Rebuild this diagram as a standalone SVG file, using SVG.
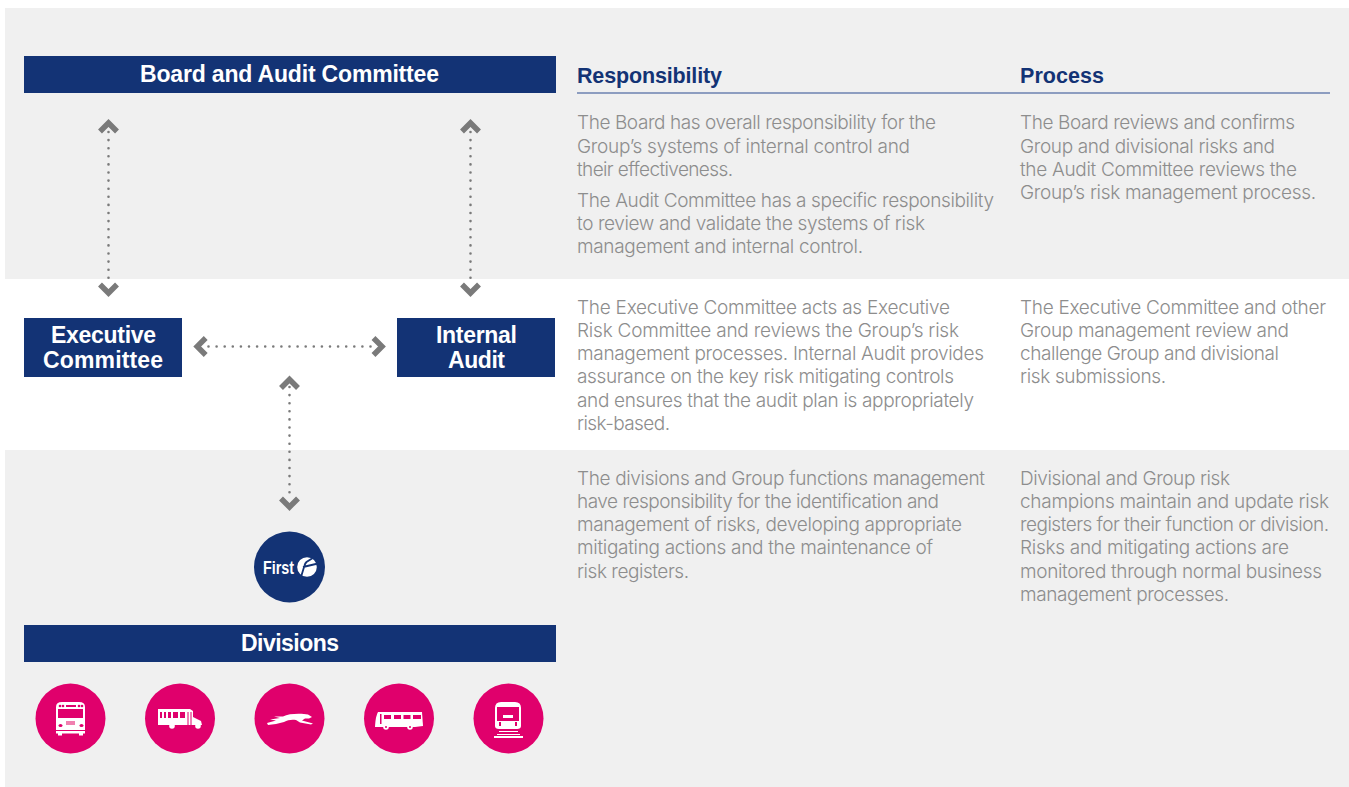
<svg xmlns="http://www.w3.org/2000/svg" width="1349" height="787" viewBox="0 0 1349 787">
<style>
.band{fill:#f0f0f0}
.bar{fill:#133375}
.h{font-family:"Liberation Sans",Arial,sans-serif;font-weight:700;fill:#fff;font-size:23px}
.sh{font-family:"Liberation Sans",Arial,sans-serif;font-weight:700;fill:#133375;font-size:21.500px}
.b{font-family:"Inter","Liberation Sans",sans-serif;font-weight:300;fill:#8d8d8d;font-size:19px}
.dot{fill:none;stroke:#7a7a7a;stroke-width:2.600;stroke-linecap:round;stroke-dasharray:0 8.100}
.chev{fill:none;stroke:#7a7a7a;stroke-width:5.500}
.pink{fill:#e0006c}
.w{fill:#fff}
.p{fill:#e0006c}
</style>
<rect width="1349" height="787" fill="#fff"/>
<rect class="band" x="5" y="8" width="1344" height="271"/>
<rect class="band" x="5" y="450" width="1344" height="337"/>
<line x1="577" y1="93" x2="1330" y2="93" stroke="#2a4a90" stroke-width="1"/>

<g id="connectors">
<path class="dot" d="M108.500 132V284"/><path class="chev" d="M100 131.500L108.500 123L117 131.500M100 284.500L108.500 293L117 284.500"/>
<path class="dot" d="M470.500 132V284"/><path class="chev" d="M462 131.500L470.500 123L479 131.500M462 284.500L470.500 293L479 284.500"/>
<path class="dot" d="M208.500 346.500H372"/><path class="chev" d="M205.700 338L197.200 346.500L205.700 355M373.500 338L382 346.500L373.500 355"/>
<path class="dot" d="M289.500 387V497"/><path class="chev" d="M281 388L289.500 379.500L298 388M281 498.500L289.500 507L298 498.500"/>
</g>

<g id="board"><rect class="bar" x="24" y="56" width="532" height="37"/><text class="h" x="140" y="82" textLength="299">Board and Audit Committee</text></g>
<g id="executive"><rect class="bar" x="24" y="318" width="158" height="59"/><text class="h" x="51" y="343" textLength="105">Executive</text><text class="h" x="43" y="368" textLength="120">Committee</text></g>
<g id="internal-audit"><rect class="bar" x="397" y="318" width="158" height="59"/><text class="h" x="436" y="343" textLength="81">Internal</text><text class="h" x="448" y="368" textLength="57">Audit</text></g>
<g id="divisions"><rect class="bar" x="24" y="625" width="532" height="37"/><text class="h" x="241" y="651" textLength="98">Divisions</text></g>

<g id="first-logo">
<circle class="bar" cx="289.500" cy="567" r="35.500"/>
<text x="263" y="574" font-family="Liberation Sans,sans-serif" font-weight="700" font-size="19" fill="#fff" textLength="31" lengthAdjust="spacingAndGlyphs">First</text>
<circle class="w" cx="307" cy="567" r="9.800"/>
<path d="M312 558.500L306.500 562Q305 563.500 304.500 565.500L301 577M303 567L318 563.500" fill="none" stroke="#133375" stroke-width="1.800"/>
</g>

<g id="icon-bus-front">
<circle class="pink" cx="70.500" cy="718.500" r="35"/>
<path class="w" d="M56 707Q56 702 62 702H79Q85 702 85 707V730H56Z"/>
<rect class="p" x="58" y="709" width="25" height="9"/>
<rect class="p" x="66" y="705" width="10" height="2"/>
<circle class="p" cx="60" cy="706" r="1.300"/><circle class="p" cx="63" cy="706" r="1.300"/><circle class="p" cx="79" cy="706" r="1.300"/><circle class="p" cx="82" cy="706" r="1.300"/>
<ellipse class="p" cx="60.500" cy="725.500" rx="2" ry="1.500"/><ellipse class="p" cx="81.500" cy="725.500" rx="2" ry="1.500"/>
<rect x="66" y="721" width="9" height="4" fill="#f080b0"/>
<rect class="p" x="56" y="730" width="29" height="1"/>
<rect class="w" x="56" y="731" width="29" height="2.500"/>
<rect class="w" x="58" y="733" width="4" height="2.500"/><rect class="w" x="79" y="733" width="4" height="2.500"/>
</g>

<g id="icon-school-bus">
<circle class="pink" cx="180" cy="718.500" r="35"/>
<path class="w" d="M158 709H190L193 711V717L201 721L202 725H158Z"/>
<circle class="w" cx="172" cy="726" r="2.800"/><circle class="w" cx="198" cy="726" r="2.800"/>
<path class="p" d="M160 712h2v6h-2zM164 712h2v6h-2zM168 712h3v6h-3zM173 712h5v6h-5zM180 712h5v6h-5zM187.500 712h1v13h-1zM190.500 712h1v13h-1z"/>
</g>

<g id="icon-greyhound">
<circle class="pink" cx="289.500" cy="718.500" r="35"/>
<path class="w" d="M267 723L276 720.500L270 719.500L280 718L274 716.500L283 716.500C288 714 296 713.500 304 714L308 714.500L312 717L309 718.500L305 718.500L302 720.500L313 723.500L311 724.500L300 722.500L296 720C291 719.500 288 720 284 722L276 724L268 725Z"/>
</g>

<g id="icon-coach">
<circle class="pink" cx="399" cy="718.500" r="35"/>
<path class="w" d="M378 712H422L423 726L415 727H375Q375.500 716 378 712Z"/>
<path class="p" d="M380 714h1.500v10h-1.500zM384 715h7v4h-7zM394 715h7v4h-7zM403.500 715h7v4h-7zM413 715h8v4h-8z"/>
<circle class="w" cx="386" cy="727" r="2.800"/><circle class="w" cx="410" cy="727" r="2.800"/>
<circle class="p" cx="386" cy="727" r="1"/><circle class="p" cx="410" cy="727" r="1"/>
</g>

<g id="icon-train">
<circle class="pink" cx="508.500" cy="718.500" r="35"/>
<path class="w" d="M495 708Q495 702 501 702H515Q521 702 521 708V726Q521 729 517 729H499Q495 729 495 726Z"/>
<rect class="p" x="497" y="707" width="22" height="8"/>
<rect class="w" x="505" y="704" width="7" height="3"/>
<path class="p" d="M497 715H503V718H513V715H519V721H497Z"/>
<rect class="p" x="499" y="722" width="2" height="4"/><rect class="p" x="515" y="722" width="2" height="4"/>
<rect class="w" x="499" y="731" width="19" height="1"/><rect class="w" x="497" y="734" width="23" height="1"/><rect class="w" x="494" y="736" width="29" height="2"/>
</g>

<g id="text-column-headers">
<text class="sh" x="577" y="83" textLength="145">Responsibility</text>
<text class="sh" x="1020" y="83" textLength="84">Process</text>
</g>
<g id="text-responsibility">
<text class="b" x="577" y="129" textLength="359">The Board has overall responsibility for the</text>
<text class="b" x="577" y="153" textLength="333">Group’s systems of internal control and</text>
<text class="b" x="577" y="176" textLength="156">their effectiveness.</text>
<text class="b" x="577" y="207" textLength="417">The Audit Committee has a specific responsibility</text>
<text class="b" x="577" y="230" textLength="348">to review and validate the systems of risk</text>
<text class="b" x="577" y="253" textLength="286">management and internal control.</text>
<text class="b" x="577" y="314" textLength="373">The Executive Committee acts as Executive</text>
<text class="b" x="577" y="337" textLength="382">Risk Committee and reviews the Group’s risk</text>
<text class="b" x="577" y="360" textLength="407">management processes. Internal Audit provides</text>
<text class="b" x="577" y="383" textLength="377">assurance on the key risk mitigating controls</text>
<text class="b" x="577" y="407" textLength="397">and ensures that the audit plan is appropriately</text>
<text class="b" x="577" y="430" textLength="93">risk-based.</text>
<text class="b" x="577" y="485" textLength="408">The divisions and Group functions management</text>
<text class="b" x="577" y="508" textLength="362">have responsibility for the identification and</text>
<text class="b" x="577" y="531" textLength="385">management of risks, developing appropriate</text>
<text class="b" x="577" y="554" textLength="356">mitigating actions and the maintenance of</text>
<text class="b" x="577" y="578" textLength="112">risk registers.</text>
</g>
<g id="text-process">
<text class="b" x="1020" y="129" textLength="275">The Board reviews and confirms</text>
<text class="b" x="1020" y="153" textLength="255">Group and divisional risks and</text>
<text class="b" x="1020" y="176" textLength="277">the Audit Committee reviews the</text>
<text class="b" x="1020" y="199" textLength="296">Group’s risk management process.</text>
<text class="b" x="1020" y="314" textLength="306">The Executive Committee and other</text>
<text class="b" x="1020" y="337" textLength="269">Group management review and</text>
<text class="b" x="1020" y="360" textLength="259">challenge Group and divisional</text>
<text class="b" x="1020" y="383" letter-spacing="-.35">risk submissions.</text>
<text class="b" x="1020" y="485" textLength="210">Divisional and Group risk</text>
<text class="b" x="1020" y="508" textLength="309">champions maintain and update risk</text>
<text class="b" x="1020" y="531" textLength="309">registers for their function or division.</text>
<text class="b" x="1020" y="554" textLength="269">Risks and mitigating actions are</text>
<text class="b" x="1020" y="578" textLength="302">monitored through normal business</text>
<text class="b" x="1020" y="601" textLength="209">management processes.</text>
</g>
</svg>
